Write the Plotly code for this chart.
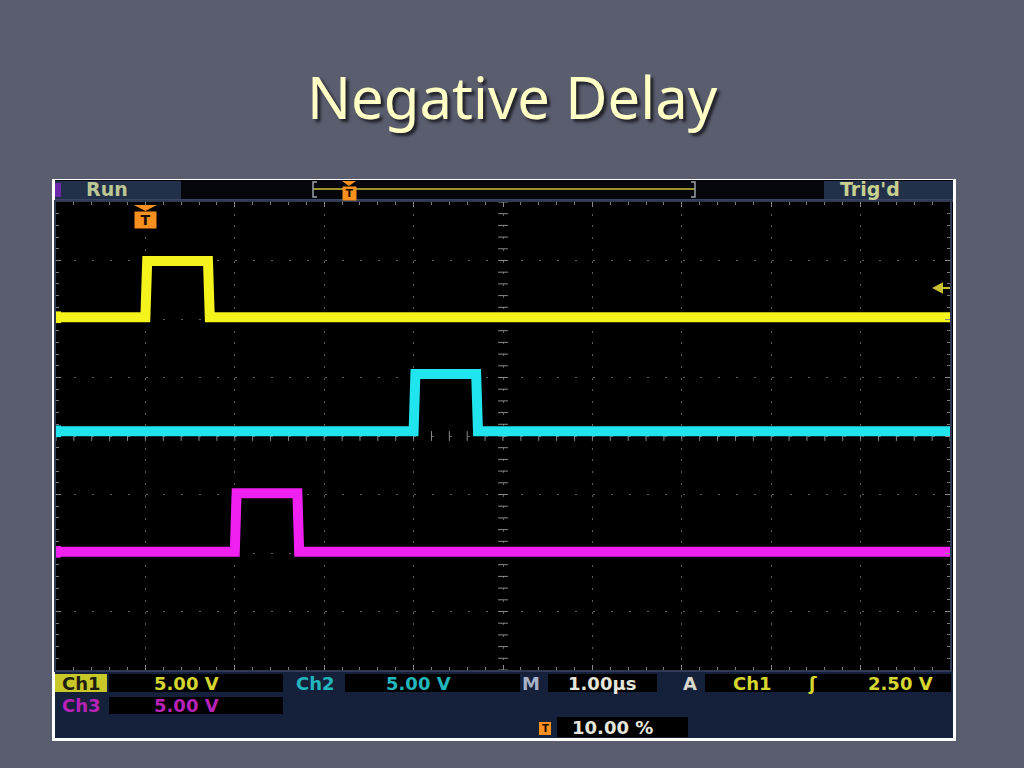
import numpy as np
import plotly.graph_objects as go

# ---------------- data ----------------
time_range_us = [-1.0, 9.0]          # 10 div at 1.00 us/div, trigger at 10 %
volts_range_div = [-4.0, 4.0]        # 8 vertical divisions
volts_per_div = 5.0
trigger_level_v = 2.50
trigger_time_us = 0.0

ch1_t = [-1.0, 0.00, 0.02, 0.70, 0.72, 9.0]
ch1_v = [0.0, 0.0, 4.8, 4.8, 0.0, 0.0]
ch2_t = [-1.0, 3.00, 3.02, 3.70, 3.72, 9.0]
ch2_v = [0.0, 0.0, 4.9, 4.9, 0.0, 0.0]
ch3_t = [-1.0, 1.00, 1.02, 1.70, 1.72, 9.0]
ch3_v = [0.0, 0.0, 5.0, 5.0, 0.0, 0.0]

channel_names = ["Ch1", "Ch2", "Ch3"]
channel_offsets_div = [2.03, 0.08, -1.98]
channel_colors = ["#f4f41c", "#20e4ee", "#f020f0"]
channel_text_colors = ["#d6d630", "#22b6be", "#b822b8"]
channel_scale_labels = ["5.00 V", "5.00 V", "5.00 V"]
timebase_label = "1.00µs"
trigger_label = "2.50 V"
trigger_pos_label = "10.00 %"
title_text = "Negative Delay"

# ---------------- layout helpers (pixel -> paper) ----------------
L, R, T, B = 56, 950, 202, 670


def fx(p):
    return (p - L) / (R - L)


def fy(p):
    return (B - p) / (B - T)


fig = go.Figure()

# graticule centre cross (ticks every 0.2 div)
cx = np.arange(time_range_us[0], time_range_us[1] + 1e-9, 0.2)
cy = np.arange(volts_range_div[0], volts_range_div[1] + 1e-9, 0.2)
xc = (time_range_us[0] + time_range_us[1]) / 2
fig.add_trace(go.Scatter(x=cx, y=[0] * len(cx), mode="markers",
                         marker=dict(symbol="line-ns", size=7, line=dict(color="#8c8c8c", width=1)),
                         hoverinfo="skip"))
fig.add_trace(go.Scatter(x=[xc] * len(cy), y=cy, mode="markers",
                         marker=dict(symbol="line-ew", size=7, line=dict(color="#8c8c8c", width=1)),
                         hoverinfo="skip"))

# channel traces
for t, v, off, col, name in zip([ch1_t, ch2_t, ch3_t], [ch1_v, ch2_v, ch3_v],
                                 channel_offsets_div, channel_colors, channel_names):
    fig.add_trace(go.Scatter(x=t, y=[off + vv / volts_per_div for vv in v], mode="lines",
                             name=name, line=dict(color=col, width=10), hoverinfo="skip"))

shapes = []
ann = []

# frame
shapes.append(dict(type="rect", xref="paper", yref="paper", x0=fx(52), x1=fx(956), y0=fy(179), y1=fy(741),
                   fillcolor="#ffffff", line=dict(width=0), layer="below"))
shapes.append(dict(type="rect", xref="paper", yref="paper", x0=fx(55), x1=fx(953), y0=fy(180), y1=fy(738),
                   fillcolor="#15203a", line=dict(width=0), layer="below"))
# top bar
shapes.append(dict(type="rect", xref="paper", yref="paper", x0=fx(55), x1=fx(953), y0=fy(180), y1=fy(200),
                   fillcolor="#05070c", line=dict(width=0), layer="below"))
shapes.append(dict(type="rect", xref="paper", yref="paper", x0=fx(55), x1=fx(953), y0=fy(199), y1=fy(202),
                   fillcolor="#3a4662", line=dict(width=0), layer="below"))
shapes.append(dict(type="rect", xref="paper", yref="paper", x0=fx(55), x1=fx(181), y0=fy(181), y1=fy(199),
                   fillcolor="#22304a", line=dict(width=0), layer="below"))
shapes.append(dict(type="rect", xref="paper", yref="paper", x0=fx(55), x1=fx(61), y0=fy(183), y1=fy(197),
                   fillcolor="#6a2aa8", line=dict(width=0), layer="below"))
shapes.append(dict(type="rect", xref="paper", yref="paper", x0=fx(824), x1=fx(953), y0=fy(181), y1=fy(199),
                   fillcolor="#22304a", line=dict(width=0), layer="below"))
# record bar
shapes.append(dict(type="line", xref="paper", yref="paper", x0=fx(313), x1=fx(695), y0=fy(189), y1=fy(189),
                   line=dict(color="#9a9030", width=2)))
shapes.append(dict(type="path", xref="paper", yref="paper",
                   path=f"M {fx(317)},{fy(182)} L {fx(313)},{fy(182)} L {fx(313)},{fy(197)} L {fx(317)},{fy(197)}",
                   line=dict(color="#9aa0a8", width=1.5)))
shapes.append(dict(type="path", xref="paper", yref="paper",
                   path=f"M {fx(691)},{fy(182)} L {fx(695)},{fy(182)} L {fx(695)},{fy(197)} L {fx(691)},{fy(197)}",
                   line=dict(color="#9aa0a8", width=1.5)))
# record bar trigger icon
shapes.append(dict(type="path", xref="paper", yref="paper",
                   path=f"M {fx(342)},{fy(181)} L {fx(356)},{fy(181)} L {fx(349)},{fy(186)} Z",
                   fillcolor="#f7901e", line=dict(width=0)))
ann.append(dict(x=fx(349), y=fy(193), text="<b>T</b>", bgcolor="#f7901e", borderpad=0, width=13,
                xanchor="center", yanchor="middle",
                font=dict(size=11, color="#201000", family="DejaVu Sans")))

# plot area black
shapes.append(dict(type="rect", xref="paper", yref="paper", x0=fx(55), x1=fx(953), y0=0, y1=1,
                   fillcolor="#000000", line=dict(width=0), layer="below"))

# trigger position marker
shapes.append(dict(type="path", xref="x", yref="paper",
                   path=f"M {trigger_time_us-0.13},{fy(205)} L {trigger_time_us+0.13},{fy(205)} L {trigger_time_us},{fy(211)} Z",
                   fillcolor="#f7901e", line=dict(width=0)))
ann.append(dict(x=trigger_time_us, xref="x", y=fy(220), text="<b>T</b>", bgcolor="#f7901e",
                borderpad=0, width=21, xanchor="center", yanchor="middle",
                font=dict(size=14, color="#1a0c00", family="DejaVu Sans")))

# trigger level arrow (right edge)
trig_y = channel_offsets_div[0] + trigger_level_v / volts_per_div
shapes.append(dict(type="path", xref="paper", yref="y",
                   path=f"M {fx(932)},{trig_y} L {fx(943)},{trig_y+0.1} L {fx(943)},{trig_y-0.1} Z",
                   fillcolor="#c8c030", line=dict(width=0)))
shapes.append(dict(type="line", xref="paper", yref="y", x0=fx(940), x1=fx(950), y0=trig_y, y1=trig_y,
                   line=dict(color="#c8c030", width=2)))

# channel ground markers (left edge)
for off, col in zip(channel_offsets_div, channel_colors):
    shapes.append(dict(type="rect", xref="paper", yref="y", x0=fx(56), x1=fx(61), y0=off - 0.1, y1=off + 0.1,
                       fillcolor=col, line=dict(width=0)))

# bottom panel
shapes.append(dict(type="rect", xref="paper", yref="paper", x0=fx(55), x1=fx(953), y0=fy(738), y1=fy(671),
                   fillcolor="#15203a", line=dict(width=0), layer="below"))


def box(x0, x1, y0, y1, color="#000000"):
    shapes.append(dict(type="rect", xref="paper", yref="paper", x0=fx(x0), x1=fx(x1), y0=fy(y1), y1=fy(y0),
                       fillcolor=color, line=dict(width=0), layer="below"))


def label(xc, yc, text, color, size=18, anchor="center", bold=True):
    ann.append(dict(x=fx(xc), y=fy(yc), text=f"<b>{text}</b>" if bold else text,
                    xanchor=anchor, yanchor="middle",
                    font=dict(size=size, color=color, family="DejaVu Sans")))


box(55, 107, 674, 692, "#c8c828")
label(81, 683, "Ch1", "#1e1e10")
box(109, 283, 674, 692)
label(186, 683, channel_scale_labels[0], channel_text_colors[0])
label(315, 683, "Ch2", channel_text_colors[1])
box(345, 520, 674, 692)
label(418, 683, channel_scale_labels[1], channel_text_colors[1])
label(531, 683, "M", "#a8b2c6")
box(548, 657, 674, 692)
label(602, 683, timebase_label, "#e6e6dc")
label(690, 683, "A", "#d8d8cc")
box(705, 951, 674, 692)
label(752, 683, channel_names[0], channel_text_colors[0])
label(812, 683, "ʃ", channel_text_colors[0])
label(866, 683, trigger_label, channel_text_colors[0], anchor="left")
label(81, 705, "Ch3", channel_text_colors[2])
box(109, 283, 697, 714)
label(186, 705, channel_scale_labels[2], channel_text_colors[2])
box(539, 551, 722, 735, "#f7901e")
label(545, 728.5, "T", "#1a0c00", size=10)
box(557, 688, 717, 737)
label(612, 727, trigger_pos_label, "#e6e6dc")

# top bar labels
label(107, 189, "Run", "#bcc894", size=19)
label(870, 189, "Trig'd", "#c8d090", size=19)

# title
ann.append(dict(x=fx(512.5), y=fy(97), text=title_text, xanchor="center", yanchor="middle",
                font=dict(size=58, color="#ffffc6", family="Noto Sans", shadow="3px 3px 3px #202028")))

for a in ann:
    a.setdefault("xref", "paper")
    a.setdefault("yref", "paper")
    a.setdefault("showarrow", False)

fig.update_layout(
    width=1024, height=768, autosize=False,
    margin=dict(l=L, r=1024 - R, t=T, b=768 - B, pad=0),
    paper_bgcolor="#5a5d6e", plot_bgcolor="#000000",
    showlegend=False, hovermode=False,
    shapes=shapes, annotations=ann,
)
axis_common = dict(showticklabels=False, showgrid=True, gridcolor="#5e5e5e", gridwidth=1,
                   zeroline=False, ticks="inside", ticklen=5, tickcolor="#8a8a8a", tickwidth=1,
                   minor=dict(dtick=0.2, ticks="inside", ticklen=3, tickcolor="#7a7a7a", showgrid=False),
                   showline=True, linecolor="#303a52", linewidth=2, mirror="allticks", fixedrange=True)
fig.update_xaxes(range=time_range_us, dtick=1, tick0=0, griddash="2px,9.7px", **axis_common)
fig.update_yaxes(range=volts_range_div, dtick=1, tick0=0, griddash="2px,15.9px", **axis_common)

fig.write_html(
    "out.html",
    config={"displayModeBar": False},
    post_script="document.body.style.margin='0';document.body.style.background='#5a5d6e';"
                "document.documentElement.style.background='#5a5d6e';",
)
